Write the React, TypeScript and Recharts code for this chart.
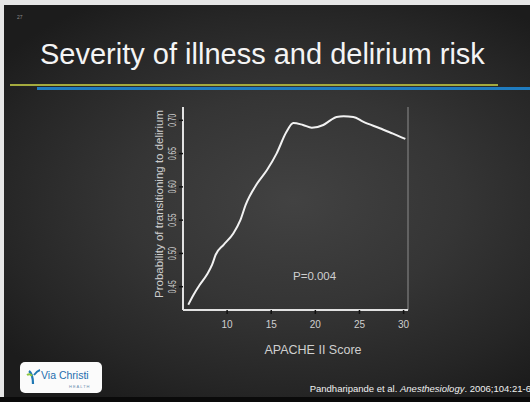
import React from 'react';
import { LineChart, Line, XAxis, YAxis, ReferenceLine } from 'recharts';

const apacheScore = [5.6, 6.2, 6.9, 7.7, 8.3, 8.7, 9.6, 10.7, 11.5, 12.1, 13.4, 14.5, 15.6, 16.7, 17.5, 18.6, 19.6, 20.9, 21.7, 22.4, 23.2, 24.3, 25.4, 27.3, 28.8, 30.2];
const deliriumProb = [0.423, 0.438, 0.453, 0.468, 0.483, 0.498, 0.513, 0.53, 0.55, 0.573, 0.605, 0.625, 0.65, 0.682, 0.696, 0.693, 0.689, 0.693, 0.7, 0.705, 0.706, 0.705, 0.698, 0.688, 0.68, 0.672];
const xTicks = [10, 15, 20, 25, 30];
const yTicks = [0.45, 0.5, 0.55, 0.6, 0.65, 0.7];

const data = apacheScore.map((x, i) => ({ x, p: deliriumProb[i] }));

const FONT = '"Liberation Sans", Arial, sans-serif';
const AXIS_TEXT = '#cfcfcf';

const YTick = ({ x, y, payload }: any) => {
  const cx = x - 4;
  return (
    <text
      x={cx}
      y={y}
      transform={`rotate(-90 ${cx} ${y})`}
      textAnchor="middle"
      dominantBaseline="central"
      fontSize={10}
      fontFamily={FONT}
      fill={AXIS_TEXT}
      textLength={13}
      lengthAdjust="spacingAndGlyphs"
    >
      {payload.value.toFixed(2)}
    </text>
  );
};

const XTick = ({ x, y, payload }: any) => (
  <text x={x} y={y + 8} textAnchor="middle" dominantBaseline="central" fontSize={10} fontFamily={FONT} fill={AXIS_TEXT}>
    {payload.value}
  </text>
);

const YLabel = ({ viewBox }: any) => {
  const cx = viewBox.x + 6;
  const cy = 204;
  return (
    <text x={cx} y={cy} transform={`rotate(-90 ${cx} ${cy})`} textAnchor="middle" dominantBaseline="central" fontSize={11.5} fontFamily={FONT} fill={AXIS_TEXT}>
      Probability of transitioning to delirium
    </text>
  );
};

const XLabel = () => (
  <text x={313} y={350} textAnchor="middle" dominantBaseline="central" fontSize={12.5} fontFamily={FONT} fill={AXIS_TEXT}>
    APACHE II Score
  </text>
);

function Logo() {
  return (
    <div style={{ position: 'absolute', left: 20, top: 362, width: 82, height: 31, background: '#fbfbfb', borderRadius: 5 }}>
      <svg width={82} height={31} style={{ position: 'absolute', left: 0, top: 0 }}>
        <path d="M9 9 Q13 12 13 22" stroke="#1f78b4" strokeWidth={2.2} fill="none" />
        <path d="M14 13 Q17 9 20 8" stroke="#1f78b4" strokeWidth={2} fill="none" />
        <path d="M7 13 Q10 11 12 14" stroke="#8dc63f" strokeWidth={2} fill="none" />
        <text x={21} y={17} fontSize={10.5} fontFamily={FONT} fill="#1f6fae">Via Christi</text>
        <text x={49} y={26} fontSize={4} fontFamily={FONT} fill="#6a8fb0" letterSpacing={1}>HEALTH</text>
      </svg>
    </div>
  );
}

export default function App() {
  return (
    <div style={{ position: 'absolute', left: 0, top: 0, width: 530, height: 402, background: '#e6e6e6', overflow: 'hidden' }}>
      <div
        style={{
          position: 'absolute',
          left: 4,
          top: 5,
          width: 526,
          height: 392,
          background: 'radial-gradient(ellipse 70% 60% at 55% 50%, #424242 0%, #353535 45%, #262626 80%, #1c1c1c 100%)',
        }}
      />
      <div style={{ position: 'absolute', left: 0, top: 397, width: 530, height: 5, background: '#0a0a0a' }} />
      <div style={{ position: 'absolute', left: 17, top: 14, fontSize: 5, color: '#8a8a8a', fontFamily: FONT }}>27</div>
      <div
        style={{
          position: 'absolute',
          left: 40,
          top: 37,
          fontSize: 29,
          color: '#f4f4f4',
          fontFamily: FONT,
          lineHeight: '34px',
          whiteSpace: 'nowrap',
        }}
      >
        Severity of illness and delirium risk
      </div>
      <div style={{ position: 'absolute', left: 10, top: 84, width: 488, height: 2, background: '#a4aa3e' }} />
      <div style={{ position: 'absolute', left: 37, top: 87, width: 493, height: 3, background: '#1f7cc0' }} />

      <div style={{ position: 'absolute', left: 0, top: 0 }}>
        <LineChart width={530} height={402} data={data} margin={{ top: 107, right: 122, bottom: 62, left: 153 }}>
          <XAxis
            dataKey="x"
            type="number"
            domain={[5, 30.5]}
            ticks={xTicks}
            allowDataOverflow
            height={30}
            tickSize={4}
            axisLine={{ stroke: '#e2e2e2', strokeWidth: 2 }}
            tickLine={{ stroke: '#111', strokeWidth: 1.5 }}
            tick={<XTick />}
            label={<XLabel />}
          />
          <YAxis
            type="number"
            domain={[0.415, 0.72]}
            ticks={yTicks}
            allowDataOverflow
            width={30}
            tickSize={4}
            axisLine={{ stroke: '#e2e2e2', strokeWidth: 2 }}
            tickLine={{ stroke: '#111', strokeWidth: 1.5 }}
            tick={<YTick />}
            label={<YLabel />}
          />
          <ReferenceLine x={30.5} stroke="#707070" strokeWidth={1.5} />
          <Line type="monotone" dataKey="p" stroke="#f2f2f2" strokeWidth={2} dot={false} isAnimationActive={false} />
        </LineChart>
      </div>

      <div style={{ position: 'absolute', left: 293, top: 270, fontSize: 11.5, color: AXIS_TEXT, fontFamily: FONT }}>P=0.004</div>

      <Logo />
      <div style={{ position: 'absolute', right: -1, top: 383, fontSize: 9.5, color: '#f0f0f0', fontFamily: FONT, whiteSpace: 'nowrap' }}>
        Pandharipande et al. <i>Anesthesiology</i>. 2006;104:21-6
      </div>
    </div>
  );
}
